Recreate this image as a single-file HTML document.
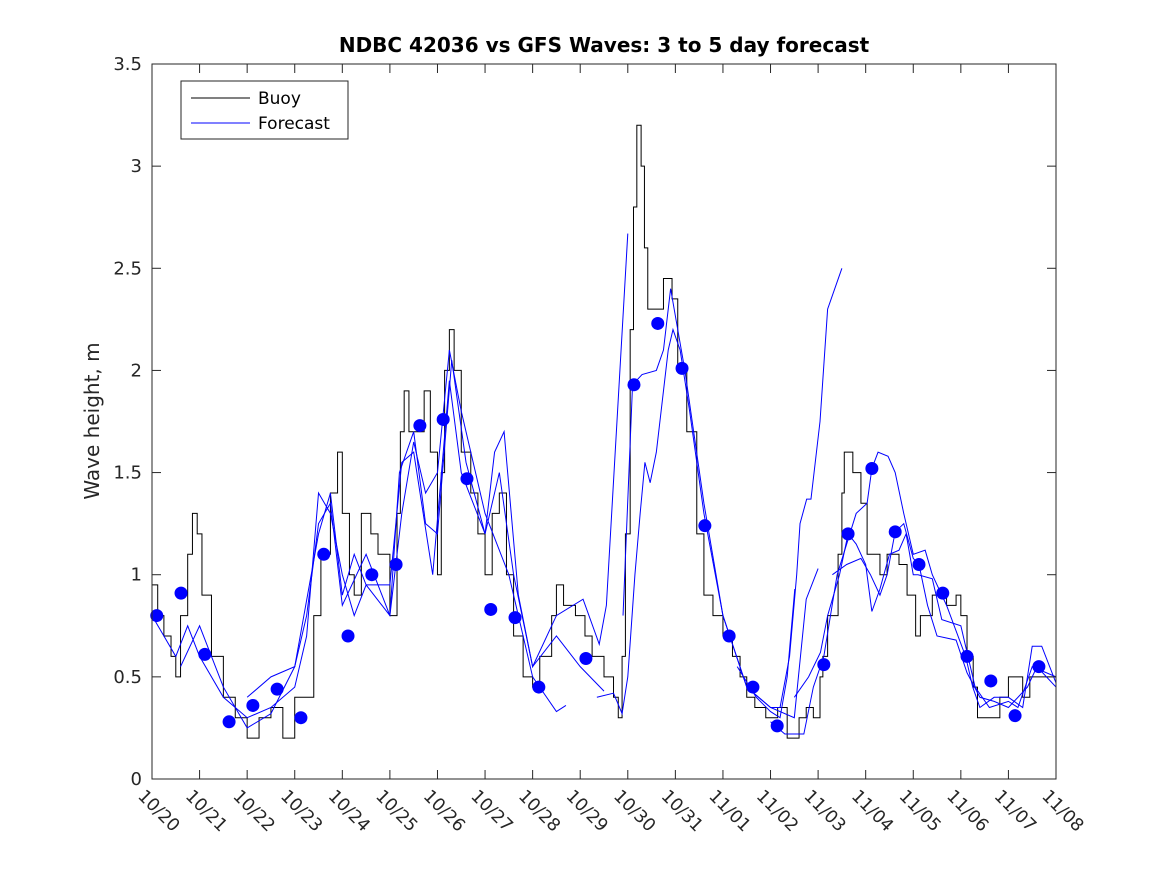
<!DOCTYPE html>
<html><head><meta charset="utf-8"><style>
html,body{margin:0;padding:0;background:#fff;}
svg{display:block;font-family:"DejaVu Sans","Liberation Sans",sans-serif;}
</style></head><body>
<svg id="chart" width="1167" height="875">
<rect x="0" y="0" width="1167" height="875" fill="#fff"/>
<text x="604" y="52" text-anchor="middle" font-size="20" font-weight="bold" fill="#000">NDBC 42036 vs GFS Waves: 3 to 5 day forecast</text>
<text transform="translate(99,421) rotate(-90)" text-anchor="middle" font-size="20" fill="#262626">Wave height, m</text>
<g id="plot"></g>
<g id="axes"></g>
<g>
<rect x="181" y="81" width="167" height="58" fill="#fff" stroke="#262626" stroke-width="1"/>
<line x1="191" y1="98" x2="250" y2="98" stroke="#000" stroke-width="1"/>
<text x="258" y="104" font-size="17" fill="#000">Buoy</text>
<line x1="191" y1="123" x2="250" y2="123" stroke="#0000ff" stroke-width="1"/>
<text x="258" y="129" font-size="17" fill="#000">Forecast</text>
</g>
</svg>
<script>
const xLabels=["10/20","10/21","10/22","10/23","10/24","10/25","10/26","10/27","10/28","10/29","10/30","10/31","11/01","11/02","11/03","11/04","11/05","11/06","11/07","11/08"];
const yTicks=[0,0.5,1,1.5,2,2.5,3,3.5];
const buoyDays=[0,0.12,0.25,0.4,0.5,0.6,0.75,0.85,0.95,1.05,1.25,1.5,1.75,2,2.25,2.5,2.75,3,3.25,3.4,3.55,3.75,3.9,4,4.15,4.25,4.4,4.6,4.75,5,5.15,5.22,5.3,5.4,5.6,5.72,5.85,6.0,6.08,6.15,6.25,6.35,6.5,6.7,6.85,7.0,7.15,7.3,7.45,7.6,7.8,8.0,8.15,8.4,8.5,8.65,8.9,9.1,9.25,9.5,9.7,9.8,9.88,9.95,10.05,10.12,10.19,10.28,10.35,10.42,10.6,10.75,10.93,11.05,11.24,11.45,11.6,11.79,12.0,12.2,12.36,12.5,12.67,12.9,13.15,13.35,13.6,13.75,13.9,14.04,14.1,14.2,14.42,14.5,14.55,14.73,14.9,15.03,15.3,15.45,15.7,15.87,16.05,16.15,16.25,16.4,16.7,16.9,17.0,17.13,17.26,17.35,17.75,17.82,18.0,18.3,18.45,18.75,19];
const buoyVals=[0.95,0.8,0.7,0.6,0.5,0.8,1.1,1.3,1.2,0.9,0.6,0.4,0.3,0.2,0.3,0.35,0.2,0.4,0.4,0.8,1.1,1.4,1.6,1.3,1.0,0.9,1.3,1.2,1.1,0.8,1.3,1.7,1.9,1.7,1.7,1.9,1.6,1.0,1.5,2.0,2.2,2.0,1.6,1.4,1.2,1.0,1.3,1.4,1.0,0.7,0.5,0.45,0.6,0.8,0.95,0.85,0.8,0.7,0.6,0.5,0.4,0.3,0.6,1.2,2.2,2.8,3.2,3.0,2.6,2.3,2.3,2.45,2.35,2.0,1.7,1.2,0.9,0.8,0.7,0.6,0.5,0.4,0.35,0.3,0.35,0.2,0.3,0.35,0.3,0.5,0.6,0.8,1.1,1.4,1.6,1.5,1.35,1.1,1.0,1.1,1.05,0.9,0.7,0.8,0.8,0.9,0.85,0.9,0.8,0.6,0.45,0.3,0.3,0.4,0.5,0.4,0.5,0.5,0.5];
const fc1Days=[0,0.5,0.75,1,1.5,2,2.5,3,3.25,3.5,3.75,4,4.25,4.5,5,5.25,5.5,5.75,6,6.25,6.5,7,7.5,8,8.5,8.7];
const fc1Vals=[0.8,0.6,0.75,0.6,0.4,0.3,0.35,0.45,0.7,1.4,1.3,1.0,0.8,0.95,0.8,1.3,1.65,1.4,1.5,2.1,1.8,1.3,1.0,0.5,0.33,0.36];
const fc2Days=[0.6,1,1.5,2,2.5,3,3.25,3.5,3.75,4,4.5,5,5.2,5.5,5.75,6,6.3,6.6,7,7.3,7.6,8,8.5,9,9.5];
const fc2Vals=[0.55,0.75,0.45,0.25,0.32,0.55,0.8,1.25,1.35,0.85,1.1,0.8,1.5,1.7,1.25,1.2,2.05,1.55,1.2,1.5,1.0,0.55,0.7,0.55,0.43];
const fc3Days=[2,2.5,3,3.5,3.75,4,4.25,4.5,5,5.25,5.5,5.9,6.25,6.5,7,7.2,7.4,7.7,8,8.5,9.06,9.4,9.55,10];
const fc3Vals=[0.4,0.5,0.55,1.2,1.4,0.9,1.1,0.95,0.95,1.55,1.6,1.0,1.95,1.5,1.2,1.6,1.7,0.9,0.55,0.8,0.88,0.66,0.85,2.67];
const fc4Days=[9.35,9.7,9.88,10.0,10.15,10.26,10.36,10.47,10.6,10.85,10.95,11.1,11.3,11.6,12,12.5,13.0,13.2,13.4,13.55,13.62,13.76,13.85,14.04,14.2,14.35,14.5];
const fc4Vals=[0.4,0.42,0.32,0.5,1.0,1.3,1.55,1.45,1.6,2.1,2.2,2.1,1.8,1.3,0.8,0.45,0.35,0.35,0.6,1.0,1.25,1.37,1.37,1.75,2.3,2.4,2.5];
const fc5Days=[9.9,10.1,10.3,10.6,10.75,10.9,11.2,11.6,12,12.5,13,13.5,13.75,14];
const fc5Vals=[0.8,1.93,1.98,2.0,2.1,2.4,2.0,1.35,0.8,0.45,0.35,0.3,0.88,1.03];
const fc6Days=[13.0,13.3,13.7,13.9,14.12,14.4,14.8,15.03,15.13,15.26,15.47,15.62,15.8,16.0,16.25,16.4,16.7,17.1,17.25,17.4,17.7,18.0,18.3,18.5,18.7,19];
const fc6Vals=[0.28,0.22,0.22,0.45,0.6,1.0,1.3,1.35,1.52,1.6,1.58,1.5,1.3,1.1,1.12,1.0,0.85,0.6,0.45,0.35,0.4,0.4,0.35,0.65,0.65,0.47];
const fc7Days=[13.5,13.8,14.05,14.2,14.45,14.63,14.8,15.0,15.13,15.3,15.5,15.7,15.85,16.0,16.1,16.4,16.6,17.0,17.3,17.6,18.0,18.2,18.5,19];
const fc7Vals=[0.4,0.5,0.62,0.8,1.0,1.2,1.15,1.05,0.82,0.93,1.1,1.12,1.2,1.0,1.0,0.98,0.78,0.75,0.45,0.35,0.38,0.35,0.55,0.5];
const fc8Days=[14.3,14.6,14.9,15.1,15.3,15.45,15.62,15.8,16.0,16.12,16.3,16.5,16.9,17.13,17.4,17.7,18.0,18.4,18.6,18.8,19];
const fc8Vals=[1.0,1.05,1.08,1.0,0.9,1.0,1.21,1.25,1.08,1.05,0.85,0.7,0.68,0.52,0.4,0.38,0.35,0.45,0.55,0.5,0.45];
const fc9Days=[12.3,12.7,13.0,13.2,13.35,13.51];
const fc9Vals=[0.55,0.4,0.33,0.3,0.5,0.93];
const dotDays=[0.1,0.61,1.11,1.62,2.12,2.63,3.13,3.61,4.12,4.62,5.13,5.63,6.12,6.62,7.12,7.63,8.13,9.12,10.13,10.63,11.14,11.62,12.13,12.63,13.14,14.12,14.63,15.13,15.62,16.12,16.62,17.13,17.63,18.14,18.64];
const dotVals=[0.80,0.91,0.61,0.28,0.36,0.44,0.30,1.10,0.70,1.00,1.05,1.73,1.76,1.47,0.83,0.79,0.45,0.59,1.93,2.23,2.01,1.24,0.70,0.45,0.26,0.56,1.20,1.52,1.21,1.05,0.91,0.60,0.48,0.31,0.55];

const NS="http://www.w3.org/2000/svg";
const X0=152,X1=1056,Y0=779,Y1=64;
const xs=d=>X0+d*(X1-X0)/19;
const ys=v=>Y0-v*(Y0-Y1)/3.5;
const plot=document.getElementById('plot'),axes=document.getElementById('axes');
function mk(t,a,p){const e=document.createElementNS(NS,t);for(const k in a)e.setAttribute(k,a[k]);p.appendChild(e);return e;}

let d='M'+xs(buoyDays[0])+','+ys(buoyVals[0]);
for(let i=1;i<buoyDays.length;i++){d+=' H'+xs(buoyDays[i])+' V'+ys(buoyVals[i]);}
const bl=mk('path',{d:d,fill:'none',stroke:'#000','stroke-width':1},plot);



const fcs=[[fc1Days,fc1Vals],[fc2Days,fc2Vals],[fc3Days,fc3Vals],[fc4Days,fc4Vals],[fc5Days,fc5Vals],[fc6Days,fc6Vals],[fc7Days,fc7Vals],[fc8Days,fc8Vals],[fc9Days,fc9Vals]];
fcs.forEach((f,j)=>{
  const pts=f[0].map((dd,i)=>xs(dd)+','+ys(f[1][i])).join(' ');
  const pl=mk('polyline',{points:pts,fill:'none',stroke:'#0000ff','stroke-width':1},plot);
  
  
});
dotDays.forEach((dd,i)=>{
  const c=mk('circle',{cx:xs(dd),cy:ys(dotVals[i]),r:6.5,fill:'#0000ff'},plot);
  
  
});

const box=mk('rect',{x:X0,y:Y1,width:X1-X0,height:Y0-Y1,fill:'none',stroke:'#262626','stroke-width':1},axes);


xLabels.forEach((lab,i)=>{
  const x=xs(i);
  mk('line',{x1:x,y1:Y0,x2:x,y2:Y0-9,stroke:'#262626'},axes);
  mk('line',{x1:x,y1:Y1,x2:x,y2:Y1+9,stroke:'#262626'},axes);
  const t=mk('text',{x:0,y:0,transform:'translate('+(x-15)+','+(Y0+18)+') rotate(45)','font-size':17.5,fill:'#262626'},axes);
  t.textContent=lab;
  
  
});
yTicks.forEach(v=>{
  const y=ys(v);
  mk('line',{x1:X0,y1:y,x2:X0+9,y2:y,stroke:'#262626'},axes);
  mk('line',{x1:X1,y1:y,x2:X1-9,y2:y,stroke:'#262626'},axes);
  const t=mk('text',{x:X0-10,y:y+6,'text-anchor':'end','font-size':18,fill:'#262626'},axes);
  t.textContent=String(v);
  
  
});
</script>
</body></html>
